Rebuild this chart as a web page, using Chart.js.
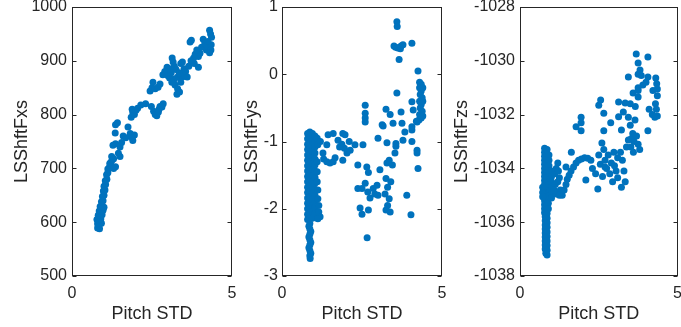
<!DOCTYPE html>
<html>
<head>
<meta charset="utf-8">
<script src="https://cdn.jsdelivr.net/npm/chart.js@4.4.1/dist/chart.umd.min.js"></script>
<style>
  body { margin: 0; background: #fff; }
  #wrap { position: relative; width: 681px; height: 327px; overflow: hidden; }
  canvas { position: absolute; top: 0; }
</style>
</head>
<body>
<div id="wrap">
  <canvas id="c1" width="240" height="327" style="left:0px"></canvas>
  <canvas id="c2" width="210" height="327" style="left:240px"></canvas>
  <canvas id="c3" width="231" height="327" style="left:450px"></canvas>
</div>
<script>
// x = Pitch STD, y = value
var xTicks = [0, 5];
var fxsTicks = [500, 600, 700, 800, 900, 1000];
var fysTicks = [-3, -2, -1, 0, 1];
var fzsTicks = [-1038, -1036, -1034, -1032, -1030, -1028];

var fxsPoints = [
  [0.8,589],[0.86,588],[0.8,597],[0.86,596],[0.92,598],[0.78,605],[0.84,604],[0.9,606],
  [0.82,613],[0.88,612],[0.94,614],[0.85,621],[0.91,620],[0.97,622],[0.88,629],[0.94,630],
  [1.0,628],[0.92,638],[0.97,640],[0.95,648],[1.0,650],[0.98,658],[1.03,660],[1.0,667],
  [1.05,670],[1.04,677],[1.09,680],[1.08,688],[1.12,692],[1.12,699],[1.17,702],[1.18,709],
  [1.22,712],[1.26,716],[1.3,718],[1.24,722],[1.3,700],[1.36,703],[1.45,728],[1.5,722],
  [1.28,743],[1.36,746],[1.35,766],[1.36,781],[1.42,785],[1.5,740],[1.55,748],[1.6,760],
  [1.68,757],[1.75,777],[1.82,765],[1.88,757],[1.95,762],[1.9,752],[1.85,795],[1.9,804],
  [1.95,800],[2.0,808],[1.88,810],[2.05,812],[2.15,818],[2.3,820],
  [2.44,844],[2.5,850],[2.53,860],[2.6,848],[2.69,851],[2.75,857],[2.84,874],[2.97,888],
  [2.48,815],[2.55,806],[2.6,800],[2.65,798],[2.7,805],[2.75,815],[2.81,814],[2.85,820],[2.72,810],
  [2.9,880],[3.0,872],[3.05,868],[3.1,878],[3.13,905],[3.16,898],[3.2,890],[3.25,884],[3.3,870],
  [3.22,855],[3.3,848],[3.36,842],[3.28,838],[3.4,895],[3.45,898],[3.5,885],[3.45,870],[3.4,860],
  [3.5,875],[3.55,880],[3.6,870],[3.35,878],[3.2,866],[3.12,860],[3.05,885],[3.65,890],
  [3.69,935],[3.73,938],[3.8,905],[3.85,912],[3.95,908],[4.0,914],[4.05,925],[4.1,940],
  [4.15,933],[4.2,920],[4.22,928],[4.3,957],[4.33,950],[4.36,944],[4.35,930],[4.34,920],
  [4.3,915],[3.82,895],[3.72,900],[3.9,920],[4.25,936],[3.95,888]
];

var fysPoints = [
  // dense band
  [0.8,-0.88],[0.8,-0.96],[0.8,-1.04],[0.8,-1.12],[0.8,-1.2],[0.8,-1.28],[0.8,-1.36],[0.8,-1.44],
  [0.8,-1.52],[0.8,-1.6],[0.8,-1.68],[0.8,-1.76],[0.8,-1.84],[0.8,-1.92],[0.8,-2.0],[0.8,-2.08],[0.8,-2.16],
  [0.87,-0.86],[0.87,-0.94],[0.87,-1.02],[0.87,-1.1],[0.87,-1.18],[0.87,-1.26],[0.87,-1.34],[0.87,-1.42],
  [0.87,-1.5],[0.87,-1.58],[0.87,-1.66],[0.87,-1.74],[0.87,-1.82],[0.87,-1.9],[0.87,-1.98],[0.87,-2.06],
  [0.87,-2.14],[0.87,-2.22],[0.87,-2.3],[0.87,-2.38],[0.87,-2.46],[0.87,-2.54],[0.87,-2.62],[0.87,-2.7],[0.88,-2.74],
  [0.84,-2.26],[0.84,-2.42],[0.84,-2.58],[0.9,-2.34],[0.9,-2.5],[0.9,-2.66],
  [0.95,-0.88],[0.95,-0.97],[0.95,-1.06],[0.95,-1.15],[0.95,-1.24],[0.95,-1.33],[0.95,-1.42],[0.95,-1.51],
  [0.95,-1.6],[0.95,-1.69],[0.95,-1.78],[0.95,-1.87],[0.95,-1.96],[0.95,-2.05],[0.95,-2.14],
  [1.03,-0.92],[1.03,-1.0],[1.03,-1.08],[1.03,-1.17],[1.03,-1.26],[1.03,-1.35],[1.03,-1.44],[1.03,-1.53],
  [1.03,-1.62],[1.03,-1.71],[1.03,-1.8],[1.03,-1.89],[1.03,-1.98],[1.03,-2.07],
  [1.1,-0.95],[1.12,-1.05],[1.1,-1.3],[1.1,-1.45],[1.1,-1.6],[1.12,-1.72],[1.12,-1.85],[1.15,-1.95],
  [1.15,-2.05],[1.19,-2.12],[1.12,-2.15],
  // streak
  [1.2,-1.0],[1.28,-1.17],[1.3,-1.26],[1.4,-1.3],[1.5,-1.32],[1.6,-1.3],[1.66,-1.24],[1.4,-1.05],
  [1.44,-0.9],[1.6,-0.88],[1.75,-0.98],[1.9,-0.88],[1.97,-0.9],[1.87,-1.04],[1.95,-1.1],[2.03,-1.17],
  [1.9,-1.28],[2.1,-1.0],[2.13,-1.13],[1.8,-1.08],
  // scatter
  [2.28,-1.05],[2.37,-1.35],[2.37,-1.7],[2.44,-1.99],[2.5,-2.08],[2.5,-1.7],[2.53,-1.05],[2.6,-0.46],
  [2.6,-0.58],[2.6,-0.65],[2.6,-0.71],[2.65,-1.38],[2.7,-1.46],[2.6,-1.62],[2.68,-1.75],[2.75,-1.84],
  [2.7,-2.02],[2.66,-2.43],[2.85,-1.7],[2.97,-1.65],[3.0,-0.95],[3.06,-1.42],[3.0,-1.8],[2.9,-1.78],
  [3.13,-0.75],[3.16,-0.77],[3.25,-0.52],[3.38,-0.6],[3.28,-1.02],[3.28,-1.32],[3.35,-1.28],[3.45,-1.35],
  [3.25,-1.55],[3.3,-1.68],[3.22,-1.78],[3.35,-1.85],[3.3,-1.95],[3.38,-2.05],[3.25,-2.02],[3.4,-1.6],
  [3.47,-0.73],[3.53,-1.17],[3.56,-1.03],[3.56,-1.07],[3.75,-0.73],[3.78,-0.98],[3.84,-0.86],[4.06,-0.83],
  [4.06,-1.0],[4.2,-0.7],[4.22,-1.13],[4.22,-1.17],[4.25,-1.4],[3.9,-1.8],[4.03,-2.09],
  // upper right
  [3.59,0.78],[3.6,0.71],[3.5,0.42],[3.55,0.4],[3.62,0.39],[3.7,0.38],[3.72,0.42],[3.78,0.44],
  [3.66,0.22],[4.06,0.46],[3.59,-0.28],[3.72,-0.56],[4.06,-0.41],[4.1,-0.53],[4.06,-0.78],
  [4.25,0.05],[4.3,-0.12],[4.35,-0.15],[4.3,-0.2],[4.35,-0.25],[4.32,-0.3],[4.38,-0.35],[4.3,-0.4],
  [4.35,-0.45],[4.32,-0.5],[4.38,-0.55],[4.3,-0.6],[4.35,-0.65],[4.28,-0.68],[4.22,-0.71],[4.4,-0.62],
  [4.4,-0.2],[4.4,-0.4]
];

var fzsPoints = [
  // dense band
  [0.78,-1033.25],[0.78,-1033.4],[0.78,-1033.55],[0.78,-1033.7],[0.78,-1033.85],[0.78,-1034.0],
  [0.78,-1034.15],[0.78,-1034.3],[0.78,-1034.45],[0.78,-1034.6],[0.78,-1034.75],[0.78,-1034.9],
  [0.78,-1035.05],[0.78,-1035.2],[0.78,-1035.35],[0.78,-1035.5],[0.78,-1035.65],[0.8,-1035.8],
  [0.8,-1035.95],[0.8,-1036.1],[0.8,-1036.25],[0.8,-1036.4],[0.8,-1036.55],[0.8,-1036.7],
  [0.8,-1036.85],[0.8,-1037.0],[0.82,-1037.15],[0.86,-1037.22],
  [0.86,-1033.3],[0.86,-1033.47],[0.86,-1033.64],[0.86,-1033.81],[0.86,-1033.98],[0.86,-1034.15],
  [0.86,-1034.32],[0.86,-1034.49],[0.86,-1034.66],[0.86,-1034.83],[0.86,-1035.0],[0.86,-1035.17],
  [0.86,-1035.34],[0.86,-1035.51],[0.86,-1035.68],[0.86,-1035.85],[0.86,-1036.02],[0.86,-1036.19],
  [0.86,-1036.36],[0.86,-1036.53],[0.86,-1036.7],[0.86,-1036.87],[0.86,-1037.04],
  [0.92,-1033.5],[0.92,-1033.7],[0.92,-1033.9],[0.92,-1034.1],[0.92,-1034.3],[0.92,-1034.5],
  [0.92,-1034.7],[0.92,-1034.9],[0.9,-1035.1],[0.9,-1035.3],[0.9,-1035.5],
  [0.72,-1034.7],[0.72,-1034.9],[0.72,-1035.05],
  [1.0,-1034.1],[1.0,-1034.3],[1.0,-1034.5],[1.0,-1034.7],[1.0,-1034.9],[1.0,-1035.1],
  // streak
  [1.1,-1034.2],[1.15,-1034.0],[1.2,-1033.8],[1.22,-1034.1],[1.25,-1034.35],[1.12,-1034.6],
  [1.2,-1034.5],[1.28,-1034.8],[1.34,-1035.0],[1.4,-1034.8],[1.46,-1034.6],[1.5,-1034.4],
  [1.56,-1034.25],[1.62,-1034.1],[1.7,-1033.95],[1.78,-1033.8],[1.86,-1033.7],[1.95,-1033.65],
  [2.05,-1033.6],[2.15,-1033.62],[1.46,-1033.95],[1.63,-1033.4],[2.09,-1034.43],[1.15,-1034.95],
  [1.08,-1034.8],[1.25,-1035.0],
  [1.78,-1032.45],[1.94,-1032.1],[1.94,-1032.3],[1.94,-1032.6],
  // cluster
  [2.25,-1033.7],[2.3,-1034.0],[2.4,-1034.2],[2.47,-1034.77],[2.5,-1033.5],[2.55,-1033.85],
  [2.6,-1033.06],[2.62,-1034.3],[2.66,-1033.3],[2.7,-1033.7],[2.75,-1034.0],[2.8,-1033.5],
  [2.85,-1034.2],[2.9,-1033.8],[2.94,-1034.5],[2.98,-1033.4],[3.05,-1034.1],[3.1,-1033.6],
  [3.19,-1033.4],[3.22,-1034.7],[3.25,-1033.7],[3.3,-1034.1],[3.34,-1034.5],[3.38,-1033.2],
  [3.1,-1034.35],[2.88,-1032.3],[2.66,-1032.6],[3.22,-1032.57],[2.7,-1033.95],[3.0,-1033.9],
  // upper
  [2.5,-1031.65],[2.56,-1031.46],[2.66,-1031.95],[3.13,-1031.53],[3.13,-1032.08],[3.28,-1031.9],
  [3.34,-1031.57],[3.44,-1032.1],[3.5,-1032.4],[3.44,-1032.94],[3.5,-1031.6],[3.66,-1031.7],
  [3.44,-1030.6],[3.59,-1031.2],[3.53,-1032.9],[3.6,-1033.4],[3.65,-1032.2],[3.58,-1032.7],
  [3.52,-1033.2],[3.62,-1033.0],[3.7,-1032.8],[3.75,-1033.1],[3.8,-1033.3],
  [3.69,-1029.75],[3.75,-1030.08],[3.81,-1030.34],[3.75,-1030.5],[3.85,-1030.55],[3.9,-1030.9],
  [4.0,-1030.8],[4.06,-1030.6],[4.06,-1029.86],[3.75,-1031.0],[3.75,-1031.1],[3.75,-1031.35],
  [4.22,-1031.1],[4.31,-1030.64],[4.34,-1030.85],[4.36,-1031.05],[4.36,-1031.3],[4.3,-1031.6],
  [4.33,-1031.8],[4.36,-1032.05],[4.28,-1032.1],[4.1,-1031.8],[4.2,-1032.0],[4.06,-1032.6]
];

var fontFamily = "'Liberation Sans', Arial, Helvetica, sans-serif";
var axisColor = '#262626';
var dotColor = '#0072BD';

var boxPlugin = {
  id: 'matlabBox',
  afterDatasetsDraw: function (chart) {
    var ctx = chart.ctx, a = chart.chartArea, ys = chart.scales.y;
    var l = Math.round(a.left) + 0.5, r = Math.round(a.right) - 0.5;
    var t = Math.round(a.top) + 0.5, b = Math.round(a.bottom) - 0.5;
    ctx.save();
    ctx.strokeStyle = axisColor;
    ctx.lineWidth = 1;
    ctx.strokeRect(l, t, r - l, b - t);
    ctx.beginPath();
    ys.ticks.forEach(function (tk) {
      var py = Math.round(ys.getPixelForValue(tk.value)) + 0.5;
      ctx.moveTo(l, py); ctx.lineTo(l + 4, py);
      ctx.moveTo(r, py); ctx.lineTo(r - 4, py);
    });
    ctx.stroke();
    ctx.restore();
  }
};

function makeChart(id, points, yTicks, title, yWidth, tickPad, titlePad, padRight) {
  return new Chart(document.getElementById(id), {
    type: 'scatter',
    data: {
      datasets: [{
        data: points.map(function (p) { return { x: p[0], y: p[1] }; }),
        backgroundColor: dotColor,
        borderColor: dotColor,
        borderWidth: 0,
        pointRadius: 3.5,
        pointHoverRadius: 3.5
      }]
    },
    options: {
      responsive: false,
      animation: false,
      devicePixelRatio: 1,
      layout: { padding: { top: 7, right: padRight, bottom: 0, left: 0 } },
      plugins: { legend: { display: false }, tooltip: { enabled: false } },
      scales: {
        x: {
          type: 'linear',
          min: xTicks[0], max: xTicks[xTicks.length - 1],
          afterBuildTicks: function (s) { s.ticks = xTicks.map(function (v) { return { value: v }; }); },
          grid: { display: false, drawTicks: false },
          border: { display: false },
          ticks: { color: axisColor, padding: 8, font: { family: fontFamily, size: 16 }, callback: function (v) { return String(v); } },
          title: { display: true, text: 'Pitch STD', color: axisColor, font: { family: fontFamily, size: 18 }, padding: { top: 0, bottom: 2 } },
          afterFit: function (s) { s.height = 51; s.paddingLeft = 0; s.paddingRight = 0; }
        },
        y: {
          type: 'linear',
          min: yTicks[0], max: yTicks[yTicks.length - 1],
          afterBuildTicks: function (s) { s.ticks = yTicks.map(function (v) { return { value: v }; }); },
          grid: { display: false, drawTicks: false },
          border: { display: false },
          ticks: { color: axisColor, padding: tickPad, font: { family: fontFamily, size: 16 }, callback: function (v) { return String(v); } },
          title: { display: true, text: title, color: axisColor, font: { family: fontFamily, size: 18 }, padding: { top: titlePad, bottom: 0 } },
          afterFit: function (s) { s.width = yWidth; s.paddingTop = 0; s.paddingBottom = 0; }
        }
      }
    },
    plugins: [boxPlugin]
  });
}

makeChart('c1', fxsPoints, fxsTicks, 'LSShftFxs', 72, 5, 11, 8);
makeChart('c2', fysPoints, fysTicks, 'LSShftFys', 42, 4, 1, 8);
makeChart('c3', fzsPoints, fzsTicks, 'LSShftFzs', 70, 5, 1, 1);
</script>
</body>
</html>
